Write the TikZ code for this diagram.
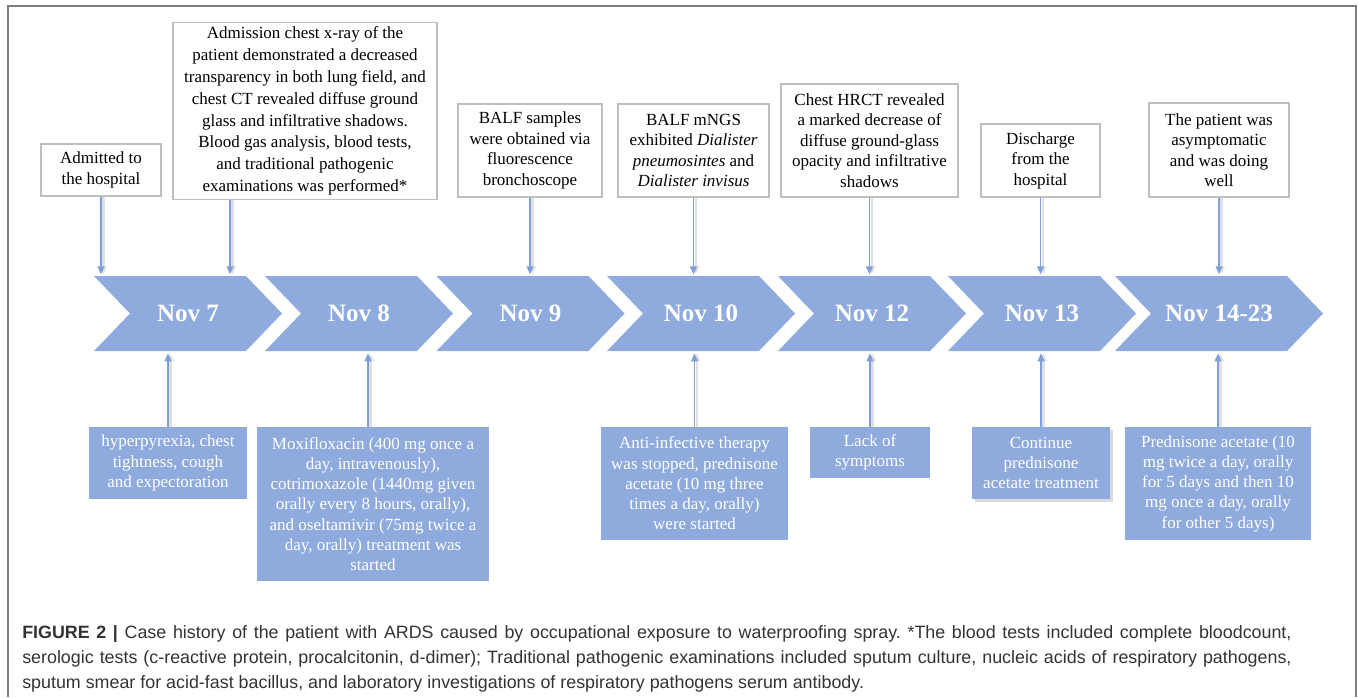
\documentclass[tikz,border=0pt]{standalone}
\usepackage{fontspec}
\setmainfont{Liberation Serif}
\newfontfamily\capfont{Liberation Sans}
\usepackage{xcolor}
\usetikzlibrary{arrows.meta}
\usetikzlibrary{shadows}

\definecolor{chevblue}{HTML}{8FAADC}
\definecolor{arrblue}{HTML}{7F9FD8}
\definecolor{boxgray}{HTML}{BFBFBF}
\definecolor{framegray}{HTML}{7F7F7F}

\tikzset{
  chev/.style={minimum height=56.25pt, inner sep=0pt, text=white,
    font=\fontsize{18.75}{20}\selectfont\bfseries,
    path picture={\fill[chevblue] (path picture bounding box.north west)
      -- ([xshift=-27pt]path picture bounding box.north east)
      -- (path picture bounding box.east)
      -- ([xshift=-27pt]path picture bounding box.south east)
      -- (path picture bounding box.south west)
      -- ([xshift=27pt]path picture bounding box.west) -- cycle;}},
  topbox/.style={draw=boxgray, line width=0.9pt, fill=white, align=center,
    inner sep=3pt, font=\fontsize{12.75}{15.4}\selectfont},
  lowbox/.style={fill=chevblue, text=white, align=center,
    inner sep=3pt, font=\fontsize{12.75}{15.2}\selectfont},
  timearrow/.style={-{Triangle[length=6pt,width=5pt]}, draw=arrblue, line width=1.1pt,
    preaction={draw=black!12, line width=2pt, transform canvas={xshift=1.8pt}}},
}

\begin{document}
\begin{tikzpicture}[x=0.75pt, y=-0.75pt]
  \useasboundingbox (0,0) rectangle (1358,697);

  % Drawing frame
  \draw[framegray, line width=1.5pt] (7.5,697) -- (7.5,6) -- (1356,6) -- (1356,697);

  % Drawing chevrons of the timeline
  \node[chev, minimum width=141pt] (c1) at (188,313.5) {Nov 7};
  \node[chev, minimum width=141pt] (c2) at (359,313.5) {Nov 8};
  \node[chev, minimum width=141pt] (c3) at (530.5,313.5) {Nov 9};
  \node[chev, minimum width=141pt] (c4) at (701,313.5) {Nov 10};
  \node[chev, minimum width=141pt] (c5) at (872,313.5) {Nov 12};
  \node[chev, minimum width=141pt] (c6) at (1042,313.5) {Nov 13};
  \node[chev, minimum width=156pt] (c7) at (1219,313.5) {Nov 14-23};

  % Marking boxes above the timeline
  \node[topbox, minimum width=90pt, minimum height=39pt] (t1) at (101,170)
    {Admitted to\\the hospital};
  \node[topbox, minimum width=198pt, minimum height=130.5pt,
    font=\fontsize{12.75}{16.4}\selectfont] (t2) at (305,111)
    {Admission chest x-ray of the\\patient demonstrated a decreased\\transparency in both lung field, and\\chest CT revealed diffuse ground\\glass and infiltrative shadows.\\Blood gas analysis, blood tests,\\and traditional pathogenic\\examinations was performed*};
  \node[topbox, minimum width=108pt, minimum height=69.75pt] (t3) at (530,150.5)
    {BALF samples\\were obtained via\\fluorescence\\bronchoscope};
  \node[topbox, minimum width=113.25pt, minimum height=69.75pt] (t4) at (693.5,150.5)
    {BALF mNGS\\exhibited \textit{Dialister}\\\textit{pneumosintes} and\\\textit{Dialister invisus}};
  \node[topbox, minimum width=132.75pt, minimum height=84.75pt] (t5) at (869.5,140.5)
    {Chest HRCT revealed\\a marked decrease of\\diffuse ground-glass\\opacity and infiltrative\\shadows};
  \node[topbox, minimum width=89.25pt, minimum height=54.75pt] (t6) at (1040.5,160.5)
    {Discharge\\from the\\hospital};
  \node[topbox, minimum width=105pt, minimum height=70.5pt] (t7) at (1219,150)
    {The patient was\\asymptomatic\\and was doing\\well};

  % Drawing arrows down to the timeline
  \draw[timearrow, shorten >=1pt] (t1.south) -- (t1.south |- c1.north);
  \draw[timearrow, shorten >=1pt] ([xshift=-56.25pt]t2.south) -- ([xshift=-56.25pt]t2.south |- c1.north);
  \draw[timearrow, shorten >=1pt] (t3.south) -- (t3.south |- c3.north);
  \draw[timearrow, shorten >=1pt] (t4.south) -- (t4.south |- c4.north);
  \draw[timearrow, shorten >=1pt] (t5.south) -- (t5.south |- c5.north);
  \draw[timearrow, shorten >=1pt] (t6.south) -- (t6.south |- c6.north);
  \draw[timearrow, shorten >=1pt] (t7.south) -- (t7.south |- c7.north);

  % Marking boxes below the timeline
  \node[lowbox, minimum width=118.5pt, minimum height=54pt] (b1) at (168,463)
    {hyperpyrexia, chest\\tightness, cough\\and expectoration};
  \node[lowbox, minimum width=174pt, minimum height=115.5pt] (b2) at (373,504)
    {Moxifloxacin (400 mg once a\\day, intravenously),\\cotrimoxazole (1440mg given\\orally every 8 hours, orally),\\and oseltamivir (75mg twice a\\day, orally) treatment was\\started};
  \node[lowbox, minimum width=140.25pt, minimum height=84.75pt] (b4) at (694.5,483.5)
    {Anti-infective therapy\\was stopped, prednisone\\acetate (10 mg three\\times a day, orally)\\were started};
  \node[lowbox, minimum width=90pt, minimum height=38.25pt] (b5) at (870,452.5)
    {Lack of\\symptoms};
  \node[lowbox, minimum width=103.5pt, minimum height=54pt,
    drop shadow={shadow xshift=2pt, shadow yshift=-2pt, opacity=0.3}] (b6) at (1041,463)
    {Continue\\prednisone\\acetate treatment};
  \node[lowbox, minimum width=139.5pt, minimum height=84.75pt] (b7) at (1218,483.5)
    {Prednisone acetate (10\\mg twice a day, orally\\for 5 days and then 10\\mg once a day, orally\\for  other 5 days)};

  % Drawing arrows up to the timeline
  \draw[timearrow, shorten >=1.5pt] (b1.north) -- (b1.north |- c1.south);
  \draw[timearrow, shorten >=1.5pt] ([xshift=-3.75pt]b2.north) -- ([xshift=-3.75pt]b2.north |- c2.south);
  \draw[timearrow, shorten >=1.5pt] (b4.north) -- (b4.north |- c4.south);
  \draw[timearrow, shorten >=1.5pt] (b5.north) -- (b5.north |- c5.south);
  \draw[timearrow, shorten >=1.5pt] (b6.north) -- (b6.north |- c6.south);
  \draw[timearrow, shorten >=1.5pt] (b7.north) -- (b7.north |- c7.south);

  % Caption
  \node[anchor=base west, inner sep=0pt, text width=952pt, align=justify,
    font=\capfont\fontsize{13.4}{19}\selectfont\frenchspacing, text=black!80] (cap) at (22,638)
    {\textbf{FIGURE 2 |} Case history of the patient with ARDS caused by occupational exposure to waterproofing spray. *The blood tests included complete bloodcount,\linebreak
    serologic tests (c-reactive protein, procalcitonin, d-dimer); Traditional pathogenic examinations included sputum culture, nucleic acids of respiratory pathogens,\linebreak
    sputum smear for acid-fast bacillus, and laboratory investigations of respiratory pathogens serum antibody.};
\end{tikzpicture}
\end{document}
